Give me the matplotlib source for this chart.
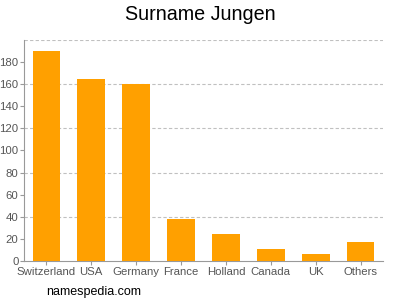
import matplotlib
matplotlib.use("Agg")
import matplotlib.pyplot as plt

plt.rcParams["font.family"] = ["Liberation Sans", "DejaVu Sans"]

categories = ["Switzerland", "USA", "Germany", "France", "Holland", "Canada", "UK", "Others"]
values = [190, 165, 160, 38, 24, 11, 6, 17]
yticks = [0, 20, 40, 60, 80, 100, 120, 140, 160, 180]
grid_levels = [40, 80, 120, 160, 200]

fig = plt.figure(figsize=(4, 3), dpi=100)
ax = fig.add_axes([0.06, 0.13, 0.8975, 0.7367])
ax.bar(range(len(categories)), values, width=0.62, color="#FFA000", zorder=3)
for g in grid_levels:
    ax.axhline(g, color="#c0c0c0", linestyle=(0, (3, 2)), linewidth=0.8, zorder=1)
ax.set_xlim(-0.5, len(categories) - 0.5)
ax.set_ylim(0, 200)
ax.set_yticks(yticks)
ax.set_xticks(range(len(categories)))
ax.set_xticklabels(categories)
for s in ["top", "right"]:
    ax.spines[s].set_visible(False)
for s in ["left", "bottom"]:
    ax.spines[s].set_color("#999999")
    ax.spines[s].set_linewidth(0.8)
ax.tick_params(axis="both", colors="#999999", labelcolor="#555555", labelsize=8.2, length=3, width=0.8, pad=1)
fig.text(0.5, 0.95, "Surname Jungen", ha="center", va="center", fontsize=14.2, color="#000000")
fig.text(0.115, 0.027, "namespedia.com", ha="left", va="center", fontsize=9, color="#000000")
fig.savefig("out.png")
